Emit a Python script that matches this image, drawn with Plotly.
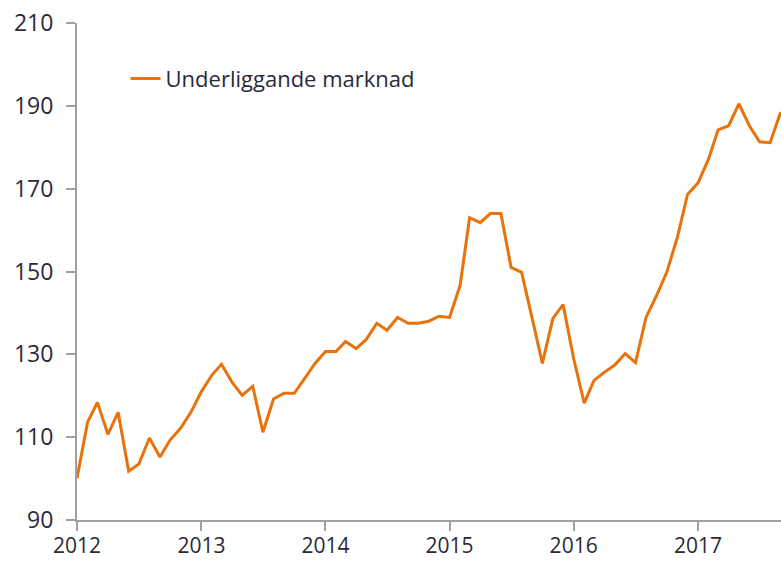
import plotly.graph_objects as go
import pandas as pd

series_name = "Underliggande marknad"
start_month = "2012-01-01"
values = [
    100.1, 113.6, 118.4, 110.7, 116.0, 101.8, 103.5, 109.8, 105.2, 109.3, 112.2, 116.0,
    121.0, 125.0, 127.6, 123.3, 120.1, 122.3, 111.2, 119.2, 120.6, 120.6, 124.2, 127.8,
    130.7, 130.7, 133.1, 131.4, 133.6, 137.5, 135.8, 138.9, 137.5, 137.5, 138.0, 139.2,
    138.9, 146.6, 163.0, 161.8, 164.0, 164.0, 151.0, 149.8, 138.7, 127.8, 138.7, 142.0,
    129.0, 118.2, 123.7, 125.7, 127.4, 130.2, 128.0, 138.9, 144.2, 149.8, 158.2, 168.6,
    171.4, 177.2, 184.2, 185.2, 190.5, 185.2, 181.3, 181.1, 188.5,
]
dates = pd.date_range(start_month, periods=len(values), freq="MS")
y_ticks = [90, 110, 130, 150, 170, 190, 210]
x_ticks = ["2012-01-01", "2013-01-01", "2014-01-01", "2015-01-01", "2016-01-01", "2017-01-01"]
x_tick_labels = ["2012", "2013", "2014", "2015", "2016", "2017"]

line_color = "#E8720C"
text_color = "#2a2a3a"
axis_color = "#a0a0a0"
font_family = "Open Sans, Noto Sans, sans-serif"

fig = go.Figure()
fig.add_trace(go.Scatter(
    x=dates, y=values, mode="lines", name=series_name,
    line=dict(color=line_color, width=3),
))

fig.update_layout(
    width=781, height=561,
    margin=dict(l=77, r=0, t=23, b=41),
    paper_bgcolor="white", plot_bgcolor="white",
    font=dict(family=font_family, size=22, color=text_color),
    showlegend=True,
    legend=dict(x=0.069, y=0.888, xanchor="left", yanchor="middle",
                bgcolor="rgba(0,0,0,0)", font=dict(size=22, color=text_color),
                itemwidth=30),
)
fig.update_xaxes(
    type="date",
    range=["2012-01-01", "2017-09-02"],
    tickvals=x_ticks, ticktext=x_tick_labels,
    showgrid=False, zeroline=False, automargin=False,
    showline=True, linecolor=axis_color, linewidth=2,
    ticks="outside", ticklen=9, tickwidth=1.5, tickcolor=axis_color,
    tickfont=dict(size=21, color=text_color),
    ticklabelstandoff=-3,
)
fig.update_yaxes(
    range=[90, 210],
    tickvals=y_ticks,
    showgrid=False, zeroline=False, automargin=False,
    showline=True, linecolor=axis_color, linewidth=2,
    ticks="outside", ticklen=9, tickwidth=1.5, tickcolor=axis_color,
    tickfont=dict(size=23, color=text_color),
    ticklabelstandoff=8,
)

fig.write_html("out.html", config={"displayModeBar": False},
               post_script="document.body.style.margin='0';")
